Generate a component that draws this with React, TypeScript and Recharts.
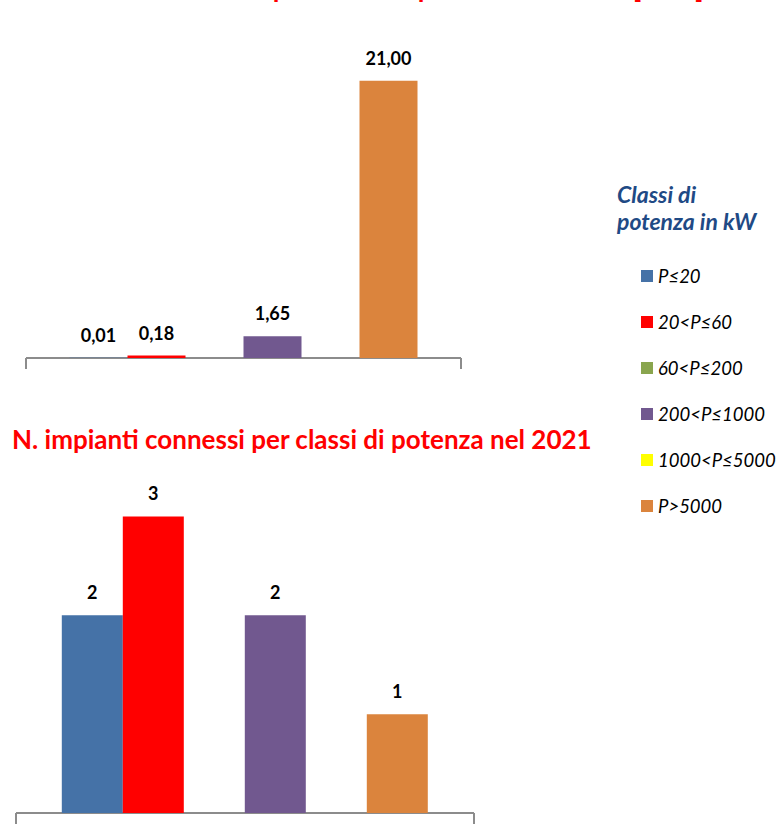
import React from 'react'
import * as R from 'recharts'

const { BarChart, Bar, XAxis, YAxis, LabelList } = R

// classi di potenza in kW
const classes = ['P≤20', '20<P≤60', '60<P≤200', '200<P≤1000', '1000<P≤5000', 'P>5000']
const colors = ['#4572A7', '#FF0000', '#89A54E', '#71588F', '#FFFF00', '#DB843D']

// potenza connessa [MW] e numero impianti, 2021
const potenzaMW: (number | null)[] = [0.01, 0.18, null, 1.65, null, 21.0]
const impianti: (number | null)[] = [2, 3, null, 2, null, 1]

const toRow = (values: (number | null)[]) => {
  const row: Record<string, any> = { anno: '2021' }
  values.forEach((v, i) => {
    row[`s${i}`] = v
  })
  return [row]
}

const FONT = 'Lato, "Open Sans", sans-serif'

function EndTicks({ fallback }: { fallback: { x: number; y: number; width: number; height: number } }) {
  const usePlot = (R as any).usePlotArea
  const area = usePlot ? usePlot() : null
  const a = area || fallback
  const bottom = a.y + a.height
  return (
    <g>
      <line x1={a.x} x2={a.x + a.width} y1={bottom} y2={bottom} stroke="#8c8c8c" strokeWidth={2} />
      <line x1={a.x} x2={a.x} y1={bottom} y2={bottom + 11} stroke="#8c8c8c" strokeWidth={2} />
      <line x1={a.x + a.width} x2={a.x + a.width} y1={bottom} y2={bottom + 11} stroke="#8c8c8c" strokeWidth={2} />
    </g>
  )
}

interface ClassBarsProps {
  values: (number | null)[]
  width: number
  height: number
  margin: { top: number; right: number; bottom: number; left: number }
  domainMax: number
  format: (v: number) => string
}

function ClassBars({ values, width, height, margin, domainMax, format }: ClassBarsProps) {
  const fallback = {
    x: margin.left,
    y: margin.top,
    width: width - margin.left - margin.right,
    height: height - margin.top - margin.bottom,
  }
  return (
    <BarChart
      width={width}
      height={height}
      data={toRow(values)}
      margin={margin}
      barCategoryGap="10%"
      barGap={0}
      style={{ fontFamily: FONT }}
    >
      <XAxis dataKey="anno" tick={false} tickLine={false} axisLine={false} height={0} />
      <YAxis hide domain={[0, domainMax]} />
      {classes.map((c, i) => (
        <Bar key={c} dataKey={`s${i}`} name={c} fill={colors[i]} isAnimationActive={false}>
          <LabelList
            dataKey={`s${i}`}
            position="top"
            offset={16}
            fill="#000"
            fontSize={18}
            fontWeight="bold"
            fontFamily={FONT}
            formatter={(v: any) => (v == null ? '' : format(Number(v)))}
          />
        </Bar>
      ))}
      <EndTicks fallback={fallback} />
    </BarChart>
  )
}

export default function App() {
  return (
    <div
      style={{
        position: 'absolute',
        left: 0,
        top: 0,
        width: 784,
        height: 840,
        background: '#fff',
        overflow: 'hidden',
        fontFamily: FONT,
      }}
    >
      {/* titolo del grafico superiore: nell'originale se ne vede solo il fondo */}
      <div
        style={{
          position: 'absolute',
          left: 52,
          top: -27,
          fontSize: 27,
          lineHeight: '30px',
          fontWeight: 'bold',
          color: '#FF0000',
          whiteSpace: 'nowrap',
        }}
      >
        Potenza connessa per classi di potenza nel 2021 [MW]
      </div>

      <div style={{ position: 'absolute', left: 0, top: 0 }}>
        <ClassBars
          values={potenzaMW}
          width={480}
          height={380}
          margin={{ top: 41, right: 19, bottom: 22, left: 26 }}
          domainMax={24}
          format={(v) => v.toFixed(2).replace('.', ',')}
        />
      </div>

      <div
        style={{
          position: 'absolute',
          left: 12,
          top: 424,
          fontSize: 26,
          lineHeight: '30px',
          fontWeight: 'bold',
          color: '#FF0000',
          whiteSpace: 'nowrap',
        }}
      >
        N. impianti connessi per classi di potenza nel 2021
      </div>

      <div style={{ position: 'absolute', left: 0, top: 440 }}>
        <ClassBars
          values={impianti}
          width={490}
          height={400}
          margin={{ top: 27, right: 16, bottom: 27, left: 16 }}
          domainMax={3.5}
          format={(v) => String(v)}
        />
      </div>

      {/* legenda */}
      <div style={{ position: 'absolute', left: 617, top: 181 }}>
        <div
          style={{
            color: '#1F4A85',
            fontWeight: 'bold',
            fontStyle: 'italic',
            fontSize: 23,
            lineHeight: '27px',
          }}
        >
          Classi di
          <br />
          potenza in kW
        </div>
        <div style={{ position: 'absolute', left: 24, top: 72 }}>
          {classes.map((c, i) => (
            <div
              key={c}
              style={{ display: 'flex', alignItems: 'center', height: 46, fontStyle: 'italic', fontSize: 18.5 }}
            >
              <span style={{ width: 12, height: 12, background: colors[i], marginRight: 5 }} />
              <span style={{ color: '#000' }}>{c}</span>
            </div>
          ))}
        </div>
      </div>
    </div>
  )
}
